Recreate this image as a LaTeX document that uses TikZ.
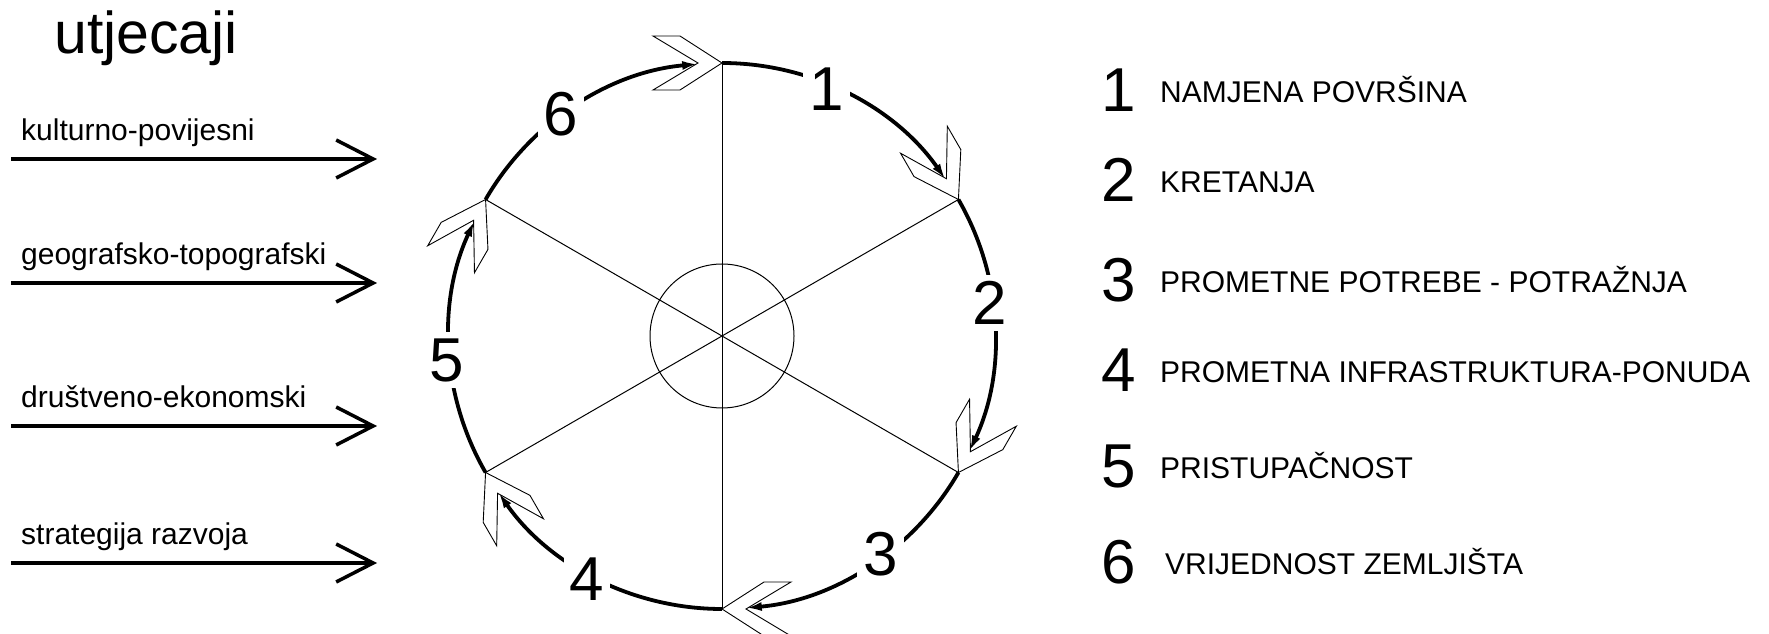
\documentclass[tikz,border=0pt]{standalone}
\usepackage{fontspec}
\setmainfont{Liberation Sans}
\usepackage{tikz}
\usetikzlibrary{arrows.meta,positioning}

\begin{document}
\begin{tikzpicture}[
  x=1pt,y=1pt,
  flow/.style={line width=3.8pt,-{Latex[length=16pt,width=9pt]}},
  spoke/.style={line width=1pt},
  influence/.style={line width=3.5pt,-{Straight Barb[length=37pt,width=38pt]}},
  num/.style={font=\fontsize{62}{62}\selectfont,inner sep=0pt},
  cyclenum/.style={num,fill=white,inner sep=6pt},
  item/.style={font=\fontsize{30}{36}\selectfont,anchor=base west,inner sep=0pt},
  chevron/.pic={\draw[line width=0.9pt] (0,0) -- (-42,27) -- (-69,27) -- (-24,0) -- (-69,-27) -- (-42,-27) -- cycle;}
]
\useasboundingbox (0,0) rectangle (1769,634);

\node[font=\fontsize{59}{59}\selectfont,anchor=base west,inner sep=0pt] (title) at (54,580) {utjecaji};

\coordinate (a1s) at (11,475);  \coordinate (a1e) at (377,475);
\coordinate (a2s) at (11,351);  \coordinate (a2e) at (377,351);
\coordinate (a3s) at (11,208);  \coordinate (a3e) at (377,208);
\coordinate (a4s) at (11,71);   \coordinate (a4e) at (377,71);
\draw[influence] (a1s) -- (a1e);
\draw[influence] (a2s) -- (a2e);
\draw[influence] (a3s) -- (a3e);
\draw[influence] (a4s) -- (a4e);
\node[item] (f1) at ([shift={(10,18)}]a1s) {kulturno-povijesni};
\node[item] (f2) at ([shift={(10,18)}]a2s) {geografsko-topografski};
\node[item] (f3) at ([shift={(10,18)}]a3s) {društveno-ekonomski};
\node[item] (f4) at ([shift={(10,18)}]a4s) {strategija razvoja};

\coordinate (C) at (722,298);
\coordinate (v1) at ([shift={(90:273)}]C);
\coordinate (v2) at ([shift={(30:273)}]C);
\coordinate (v3) at ([shift={(-30:273)}]C);
\coordinate (v4) at ([shift={(-90:273)}]C);
\coordinate (v5) at ([shift={(-150:273)}]C);
\coordinate (v6) at ([shift={(150:273)}]C);
\draw[spoke] (v1) -- (v4);
\draw[spoke] (v2) -- (v5);
\draw[spoke] (v3) -- (v6);
\draw[spoke] (C) circle[radius=72];

\draw[flow] (v1) arc[start angle=90,end angle=35,radius=273];
\draw[flow] (v2) arc[start angle=30,end angle=-25,radius=273];
\draw[flow] (v3) arc[start angle=-30,end angle=-85,radius=273];
\draw[flow] (v4) arc[start angle=-90,end angle=-145,radius=273];
\draw[flow] (v5) arc[start angle=-150,end angle=-205,radius=273];
\draw[flow] (v6) arc[start angle=150,end angle=95,radius=273];

\node[cyclenum] (n1) at ([shift={(67:268)}]C) {1};
\node[cyclenum] (n2) at ([shift={(7:270)}]C) {2};
\node[cyclenum] (n3) at ([shift={(-54:270)}]C) {3};
\node[cyclenum] (n4) at ([shift={(-119:278)}]C) {4};
\node[cyclenum] (n5) at ([shift={(185:276)}]C) {5};
\node[cyclenum] (n6) at ([shift={(126:274)}]C) {6};

\pic[rotate=0] at (v1) {chevron};
\pic[rotate=-60] at (v2) {chevron};
\pic[rotate=-120] at (v3) {chevron};
\pic[rotate=180] at (v4) {chevron};
\pic[rotate=120] at (v5) {chevron};
\pic[rotate=60] at (v6) {chevron};

\node[num,anchor=base] (d1) at (1119,522) {1};
\node[num,anchor=base] (d2) at (1119,432) {2};
\node[num,anchor=base] (d3) at (1119,332) {3};
\node[num,anchor=base] (d4) at (1119,242) {4};
\node[num,anchor=base] (d5) at (1119,146) {5};
\node[num,anchor=base] (d6) at (1119,50) {6};
\node[item] (t1) at ([shift={(41,9)}]d1.base) {NAMJENA POVRŠINA};
\node[item] (t2) at ([shift={(41,9)}]d2.base) {KRETANJA};
\node[item] (t3) at ([shift={(41,9)}]d3.base) {PROMETNE POTREBE - POTRAŽNJA};
\node[item] (t4) at ([shift={(41,9)}]d4.base) {PROMETNA INFRASTRUKTURA-PONUDA};
\node[item] (t5) at ([shift={(41,9)}]d5.base) {PRISTUPAČNOST};
\node[item] (t6) at ([shift={(46,9)}]d6.base) {VRIJEDNOST ZEMLJIŠTA};
\end{tikzpicture}
\end{document}
